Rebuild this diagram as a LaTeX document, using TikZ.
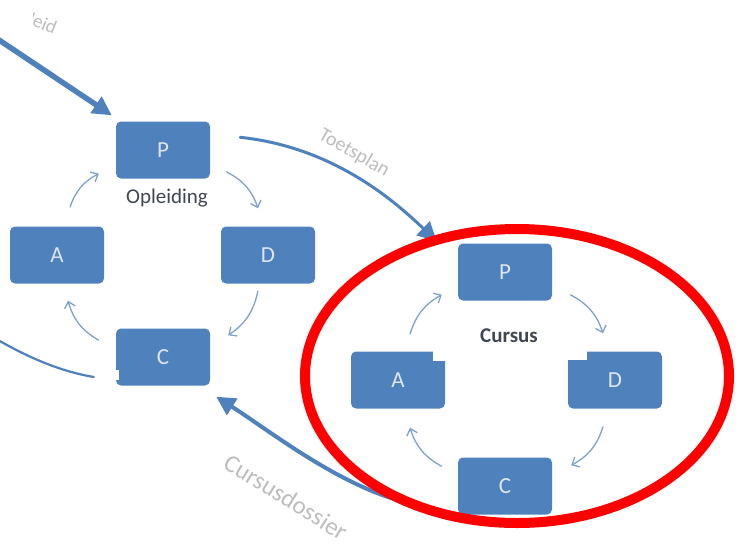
\documentclass[tikz,border=0pt]{standalone}
\usepackage{fontspec}
\setmainfont{Carlito}
\usetikzlibrary{arrows.meta,calc}
\definecolor{boxblue}{HTML}{4F81BD}
\definecolor{boxtext}{HTML}{DCE6F2}
\definecolor{cycblue}{HTML}{7EA1CF}
\definecolor{lblgray}{HTML}{BDBDBD}
\definecolor{darktext}{HTML}{3F4652}
\tikzset{
  pdbox/.style={rectangle, rounded corners=5pt, fill=boxblue, draw=none,
    minimum width=94pt, minimum height=57pt, inner sep=0pt,
    text=boxtext, font=\fontsize{23}{23}\selectfont},
  cyc/.style={draw=cycblue, line width=1.3pt, bend left=22,
    -{Straight Barb[length=6pt,width=11pt,line width=1.3pt]}},
  bigarrow/.style={draw=boxblue, line cap=round,
    -{Triangle[length=19pt,width=19pt]}},
  flowlbl/.style={text=lblgray, font=\fontsize{20}{20}\selectfont},
  cyclbl/.style={text=darktext, font=\fontsize{21}{21}\selectfont}
}
\begin{document}
\begin{tikzpicture}[x=1pt,y=-1pt]
\useasboundingbox (0,0) rectangle (738,547);
\clip (0,0) rectangle (738,547);

% left cycle (Opleiding)
\node[pdbox] (lP) at (163,150) {P};
\node[pdbox] (lD) at (268,255) {D};
\node[pdbox] (lA) at (57,255) {A};
\node[pdbox] (lC) at (163,357) {C};
\node[cyclbl] (lLbl) at (167,198) {Opleiding};

% right cycle (Cursus)
\node[pdbox] (rP) at (505,272) {P};
\node[pdbox] (rA) at (398,380) {A};
\node[pdbox] (rD) at (615,380) {D};
\node[pdbox] (rC) at (505,486) {C};
\node[cyclbl, font=\bfseries\fontsize{21}{21}\selectfont] (rLbl) at (509,336) {Cursus};

% notches on boxes
\fill[white] (433,348) rectangle (448,361);
\fill[white] (566,348) rectangle (587,360);
\fill[white] (116,370) rectangle (119,380);

% left cycle arrows
\draw[cyc] ([shift={(13,-19)}]lA.north) to ([shift={(-17,-5)}]lP.south west);
\draw[cyc] ([shift={(16,-7)}]lP.south east) to ([shift={(-10,-18)}]lD.north);
\draw[cyc] ([shift={(-10,7)}]lD.south) to ([shift={(18,7)}]lC.north east);
\draw[cyc] ([shift={(-17,12)}]lC.north west) to ([shift={(11,17)}]lA.south);

% right cycle arrows
\draw[cyc] ([shift={(12,-17)}]rA.north) to ([shift={(-16,-6)}]rP.south west);
\draw[cyc] ([shift={(18,-6)}]rP.south east) to ([shift={(-12,-18)}]rD.north);
\draw[cyc] ([shift={(-12,18)}]rD.south) to ([shift={(19,8)}]rC.north east);
\draw[cyc] ([shift={(-16,9)}]rC.north west) to ([shift={(12,19)}]rA.south);

% Beleid arrow (from outside, top left)
\coordinate (inTop) at (-4,38);
\draw[bigarrow, line width=5.5pt] (inTop) -- ([shift={(-4,-6)}]lP.north west);
\begin{scope}
  \clip (33,0) rectangle (120,60);
  \node[flowlbl, font=\fontsize{19}{19}\selectfont, rotate=-22, anchor=base east] (belLbl) at (57,36) {Beleid};
\end{scope}

% Toetsplan arrow
\draw[bigarrow, line width=3pt]
  ([shift={(30,16)}]lP.north east) .. controls +(95,10) and +(-40,-38) ..
  ([shift={(-21,-2)}]rP.north west);
\node[flowlbl, rotate=-30] (toetsLbl) at (354,153) {Toetsplan};

% Cursusdossier arrow
\draw[bigarrow, line width=4pt]
  ([shift={(-45,18)}]rC.west) .. controls +(-70,-15) and +(55,35) ..
  ([shift={(6,11)}]lC.south east);
\node[flowlbl, rotate=-32, font=\fontsize{25}{25}\selectfont] (dosLbl) at (286,497) {Cursusdossier};

% incoming arc at the left
\coordinate (inLeft) at (-2,340);
\draw[draw=boxblue, line width=2.2pt, line cap=round]
  (inLeft) .. controls +(35,20) and +(-30,-5) .. ([shift={(-22,20)}]lC.west);

% red ellipse
\draw[red, line width=10pt] (517,376) ellipse [x radius=212, y radius=147];
\end{tikzpicture}
\end{document}
